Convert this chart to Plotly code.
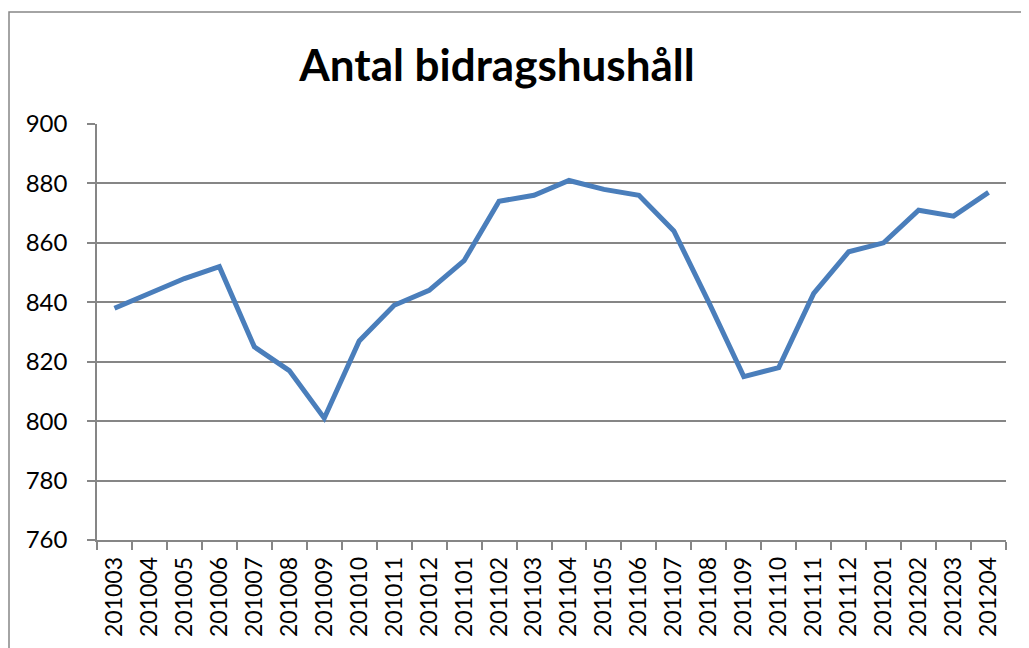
import plotly.graph_objects as go

months = ["201003", "201004", "201005", "201006", "201007", "201008", "201009",
          "201010", "201011", "201012", "201101", "201102", "201103", "201104",
          "201105", "201106", "201107", "201108", "201109", "201110", "201111",
          "201112", "201201", "201202", "201203", "201204"]
households = [838, 843, 848, 852, 825, 817, 801, 827, 839, 844, 854, 874, 876, 881,
              878, 876, 864, 840, 815, 818, 843, 857, 860, 871, 869, 877]
y_ticks = [760, 780, 800, 820, 840, 860, 880, 900]

OFF = 8  # page body margin offset
W, H = 1029 - OFF, 648 - OFF
L, R, T, B = 97 - OFF, 23, 124 - OFF, 108
pw, ph = W - L - R, H - T - B

grey = "#868686"
font = "Lato, Carlito, Calibri, sans-serif"

fig = go.Figure()
fig.add_trace(go.Scatter(
    x=months, y=households, mode="lines",
    line=dict(color="#4A7EBB", width=5),
    hoverinfo="x+y", showlegend=False,
))

fig.update_layout(
    width=W, height=H,
    margin=dict(l=L, r=R, t=T, b=B, autoexpand=False),
    paper_bgcolor="white", plot_bgcolor="white",
    font=dict(family=font, color="black"),
    title=dict(
        text="<b>Antal bidragshushåll</b>",
        font=dict(family=font, size=44, color="black"),
        x=(497 - 97) / pw, xref="paper", xanchor="center",
        y=(H - (66 - OFF)) / H, yref="container", yanchor="middle",
    ),
    xaxis=dict(
        type="category", tickson="boundaries",
        showline=True, linecolor=grey, linewidth=1.5,
        ticks="outside", ticklen=8, tickcolor=grey, tickwidth=1.5,
        tickangle=-90, tickfont=dict(size=23, family=font, color="black"),
        showgrid=False, zeroline=False,
        range=[-0.5, len(months) - 0.5],
        ticklabelstandoff=6,
    ),
    yaxis=dict(
        range=[760, 900], tickvals=y_ticks,
        showline=True, linecolor=grey, linewidth=1.5,
        ticks="outside", ticklen=8, tickcolor=grey, tickwidth=1.5,
        tickfont=dict(size=24, family=font, color="black"),
        showgrid=True, gridcolor=grey, gridwidth=1.5,
        zeroline=False,
        ticklabelstandoff=15,
    ),
)

# outer chart frame (extends beyond the visible window on right/bottom)
fig.add_shape(
    type="rect", xref="paper", yref="paper",
    x0=(9 - 97) / pw, x1=(1029 + 20 - 97) / pw,
    y0=(540 - (648 + 20)) / ph, y1=(540 - 12) / ph,
    line=dict(color=grey, width=1.5), fillcolor="rgba(0,0,0,0)", layer="below",
)

fig.write_html("out.html")
